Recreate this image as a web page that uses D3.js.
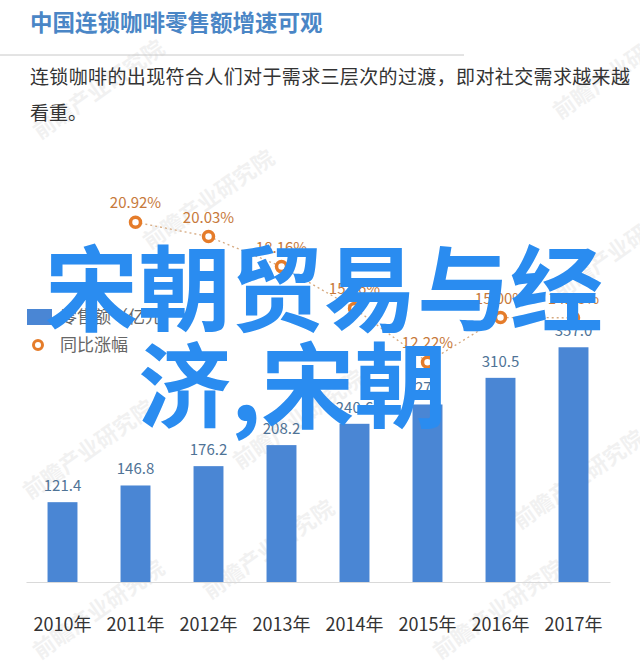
<!DOCTYPE html>
<html><head><meta charset="utf-8">
<script src="https://cdn.jsdelivr.net/npm/d3@7"></script>
<style>
html,body{margin:0;padding:0;background:#fff;}
svg{display:block;font-family:"Noto Sans CJK SC","Noto Sans",sans-serif;}
</style></head>
<body>
<script>
const years = ["2010年","2011年","2012年","2013年","2014年","2015年","2016年","2017年"];
const sales = [121.4,146.8,176.2,208.2,240.6,270,310.5,357.0];
const salesLabels = ["121.4","146.8","176.2","208.2","240.6","270","310.5","357.0"];
const growthYears = ["2011年","2012年","2013年","2014年","2015年","2016年","2017年"];
const growth = [20.92,20.03,18.16,15.56,12.22,15.00,14.98];
const titleText = "中国连锁咖啡零售额增速可观";
const subtitleLines = ["连锁咖啡的出现符合人们对于需求三层次的过渡，即对社交需求越来越","看重。"];
const legendLabels = ["零售额（亿元）","同比涨幅"];
const overlayLines = ["宋朝贸易与经","济,宋朝"];
const watermark = "前瞻产业研究院";

const W=640,H=667;
const svg=d3.select("body").append("svg").attr("width",W).attr("height",H);

// watermarks
const wm=[[40,140],[560,120],[150,250],[560,300],[30,500],[520,530],[240,470],[440,660],[40,660],[210,600]];
svg.append("g").selectAll("text").data(wm).join("text")
  .attr("transform",d=>`translate(${d[0]},${d[1]}) rotate(-35)`)
  .attr("font-size",22).attr("fill","#000").attr("opacity",0.05).attr("font-weight","bold")
  .text(watermark);

// title
svg.append("text").attr("x",30).attr("y",31).attr("font-size",22.5).attr("font-weight","bold")
  .attr("fill","#4a86c6").text(titleText);
svg.append("line").attr("x1",0).attr("x2",464).attr("y1",55).attr("y2",55)
  .attr("stroke","#c8c8c8").attr("stroke-width",1);
svg.append("g").selectAll("text").data(subtitleLines).join("text")
  .attr("x",30).attr("y",(d,i)=>84+i*36).attr("font-size",19).attr("fill","#333")
  .attr("textLength",(d,i)=>i===0?600:null).text(d=>d);

// scales
const x=d3.scaleBand().domain(years).range([26,610]).paddingInner(0.59).paddingOuter(0.295);
const y=d3.scaleLinear().domain([0,400]).range([582,319]);
const y2=d3.scaleLinear().domain([0,25]).range([559,156.5]);

// axis
const ax=svg.append("g").attr("transform","translate(0,582)")
  .call(d3.axisBottom(x).tickSize(0).tickPadding(36));
ax.select(".domain").attr("stroke","#d9d9d9");
ax.selectAll("text").attr("font-size",18).attr("fill","#333").attr("font-family","\"Noto Sans CJK SC\",sans-serif");

// bars
svg.append("g").selectAll("rect").data(sales).join("rect")
  .attr("x",(d,i)=>x(years[i])).attr("width",x.bandwidth())
  .attr("y",d=>y(d)).attr("height",d=>y(0)-y(d)).attr("fill","#4a86d4");
svg.append("g").selectAll("text").data(sales).join("text")
  .attr("x",(d,i)=>x(years[i])+x.bandwidth()/2).attr("y",d=>y(d)-11)
  .attr("text-anchor","middle").attr("font-size",15).attr("fill","#4f7396")
  .text((d,i)=>salesLabels[i]);

// line
const cx=d=>x(d)+x.bandwidth()/2;
const line=d3.line().x((d,i)=>cx(growthYears[i])).y(d=>y2(d));
svg.append("path").datum(growth).attr("d",line).attr("fill","none")
  .attr("stroke","#d6aa80").attr("stroke-width",1.3).attr("stroke-dasharray","2,3");
svg.append("g").selectAll("circle").data(growth).join("circle")
  .attr("cx",(d,i)=>cx(growthYears[i])).attr("cy",d=>y2(d)).attr("r",5)
  .attr("fill","#fff").attr("stroke","#e57c2a").attr("stroke-width",3.5);
svg.append("g").selectAll("text").data(growth).join("text")
  .attr("x",(d,i)=>cx(growthYears[i])).attr("y",d=>y2(d)-14)
  .attr("text-anchor","middle").attr("font-size",15).attr("fill","#c7793a")
  .text(d=>d.toFixed(2)+"%");

// legend
svg.append("rect").attr("x",27).attr("y",309).attr("width",25).attr("height",16).attr("fill","#4a86d4");
svg.append("circle").attr("cx",38).attr("cy",345).attr("r",4.5).attr("fill","#fff")
  .attr("stroke","#e57c2a").attr("stroke-width",3);
svg.append("g").selectAll("text").data(legendLabels).join("text")
  .attr("x",60).attr("y",(d,i)=>323+i*28).attr("font-size",17).attr("fill","#666").text(d=>d);

// overlay
svg.append("g").selectAll("text").data(overlayLines).join("text")
  .attr("x",(d,i)=>i===0?45:138).attr("y",(d,i)=>324+i*97)
  .attr("font-size",93).attr("font-weight","bold").attr("fill","#2a8cf0").text(d=>d);
</script>
</body></html>
